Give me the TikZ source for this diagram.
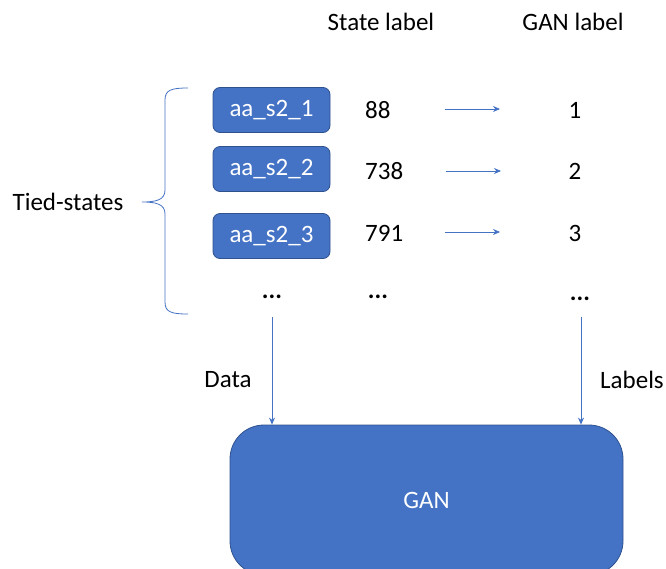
\documentclass[tikz,border=0pt]{standalone}
\usepackage{fontspec}
\setmainfont{Carlito}
\usetikzlibrary{arrows.meta}
\definecolor{accent}{HTML}{4472C4}
\definecolor{accentdark}{HTML}{2F528F}
\tikzset{
  txt/.style={font=\fontsize{25}{28}\selectfont, text=black, inner sep=0pt},
  statebox/.style={draw=accentdark, line width=0.8pt, fill=accent, rounded corners=7pt,
    minimum width=117pt, minimum height=45pt, inner sep=0pt,
    font=\fontsize{25}{28}\selectfont, text=white},
  ganbox/.style={draw=accentdark, line width=0.8pt, fill=accent, rounded corners=34pt,
    minimum width=393pt, minimum height=150pt, inner sep=0pt,
    font=\fontsize{25}{28}\selectfont, text=white},
  link/.style={draw=accent, line width=0.8pt, -{Stealth[length=7pt,width=6pt]}},
}
\begin{document}
\begin{tikzpicture}[x=1pt,y=-1pt]
  \useasboundingbox (0,0) rectangle (666,568);
  \clip (0,0) rectangle (666,568);

  % column headings
  \node[txt] (hstate) at (381,22) {State label};
  \node[txt] (hgan)   at (573,22) {GAN label};

  % tied-state boxes
  \node[statebox] (s1) at (271.5,110) {aa\_s2\_1};
  \node[statebox] (s2) at (271.5,169) {aa\_s2\_2};
  \node[statebox] (s3) at (271.5,236) {aa\_s2\_3};
  \node[txt] (sdots) at (272,297) {\textbf{...}};

  % state labels
  \node[txt, anchor=west] (n1) at (365,110) {88};
  \node[txt, anchor=west] (n2) at (365,171) {738};
  \node[txt, anchor=west] (n3) at (365,233) {791};
  \node[txt] (ndots) at (378,297) {\textbf{...}};

  % GAN labels
  \node[txt] (g1) at (575,110) {1};
  \node[txt] (g2) at (575,171) {2};
  \node[txt] (g3) at (575,233) {3};
  \node[txt] (gdots) at (580,299) {\textbf{...}};

  % mapping arrows
  \coordinate (a1s) at (445,109); \coordinate (a1e) at (500,109);
  \coordinate (a2s) at (446,171); \coordinate (a2e) at (501,171);
  \coordinate (a3s) at (445,232); \coordinate (a3e) at (500,232);
  \draw[link] (a1s) -- (a1e);
  \draw[link] (a2s) -- (a2e);
  \draw[link] (a3s) -- (a3e);

  % brace grouping the tied states
  \draw[accent, line width=0.8pt]
    (188,88) .. controls (171,88) and (165,90) .. (165,100)
    -- (165,190) .. controls (165,200) and (156,202) .. (142,202)
    .. controls (156,202) and (165,204) .. (165,214)
    -- (165,302) .. controls (165,312) and (171,314) .. (188,314);
  \node[txt] (tied) at (68,202) {Tied-states};

  % GAN block
  \node[ganbox] (gan) at (426.5,500) {GAN};

  % inputs to the GAN
  \coordinate (dtop) at (272,317);
  \coordinate (ltop) at (581,317);
  \draw[link] (dtop) -- (gan.north -| dtop);
  \draw[link] (ltop) -- (gan.north -| ltop);
  \node[txt] (data)   at (228,380) {Data};
  \node[txt] (labels) at (632,380) {Labels};
\end{tikzpicture}
\end{document}
